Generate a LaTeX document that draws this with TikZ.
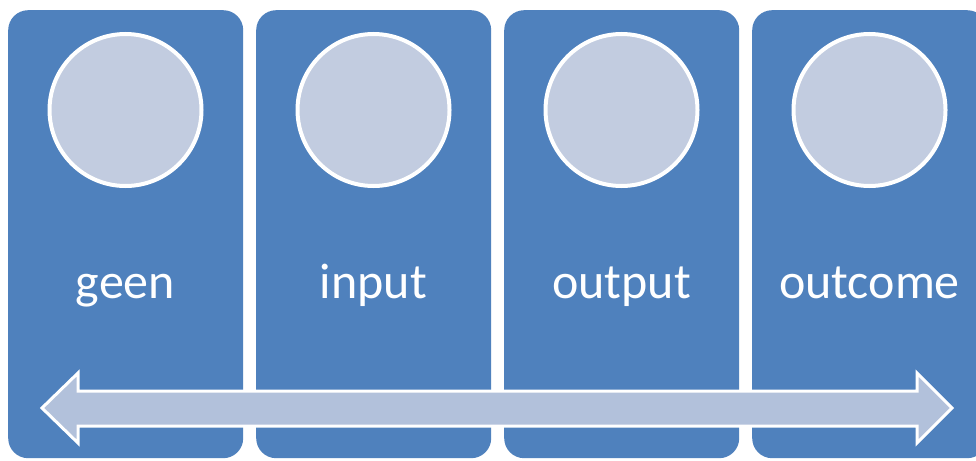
\documentclass[tikz,border=0pt]{standalone}
\usepackage{fontspec}
\setmainfont{Carlito}
\definecolor{boxblue}{HTML}{4F81BD}
\definecolor{circfill}{HTML}{C2CCE0}
\definecolor{arrfill}{HTML}{B2C1DB}
\begin{document}
\begin{tikzpicture}[x=1pt,y=-1pt,
  panel/.style={draw=none,fill=boxblue,rounded corners=20pt,minimum width=235pt,minimum height=448pt,inner sep=0pt,anchor=north west},
  disc/.style={circle,fill=circfill,draw=white,line width=4pt,minimum size=152pt,inner sep=0pt},
  label/.style={anchor=base,text=white,font=\fontsize{50}{56}\selectfont,inner sep=0pt}]
\useasboundingbox (0,0) rectangle (976,460);
\clip (0,0) rectangle (976,460);
\fill[white] (0,0) rectangle (976,460);
\foreach \i/\t in {1/geen,2/input,3/output,4/outcome}{
  \pgfmathsetmacro{\xl}{8+248*(\i-1)}
  \pgfmathsetmacro{\xc}{\xl+117.5}
  \node[panel] (p\i) at (\xl,10) {};
  \node[disc] (c\i) at (\xc,110) {};
  \node[label] (t\i) at (\xc,298) {\t};
}
\coordinate (aL) at (42,408);
\coordinate (aR) at (952,408);
\draw[white,line width=3pt,fill=arrfill,line join=miter]
  (aL) -- (78,373) -- (78,391) -- (917,391) -- (917,373) -- (aR) -- (917,443) -- (917,426) -- (78,426) -- (78,443) -- cycle;
\end{tikzpicture}
\end{document}
